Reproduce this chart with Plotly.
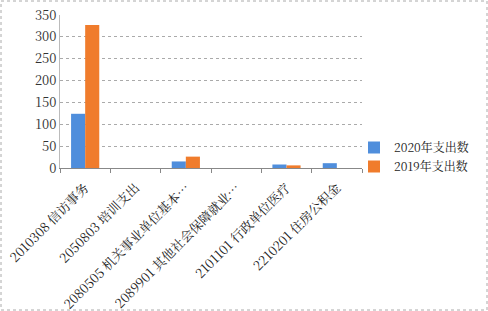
import plotly.graph_objects as go

categories = ["2010308 信访事务", "2050803 培训支出", "2080505 机关事业单位基本…",
              "2089901 其他社会保障就业…", "2101101 行政单位医疗", "2210201 住房公积金"]
values_2020 = [124, 0, 15, 0, 8, 11]
values_2019 = [327, 0, 26, 0, 6, 0]
series_names = ["2020年支出数", "2019年支出数"]
yticks = [0, 50, 100, 150, 200, 250, 300, 350]

W, H = 488, 311
L, R, T, B = 60, 126, 15, 143
pw, ph = W - L - R, H - T - B

fig = go.Figure()
fig.add_trace(go.Bar(x=categories, y=values_2020, name=series_names[0],
                     marker=dict(color="#4F8EDC", line=dict(width=0))))
fig.add_trace(go.Bar(x=categories, y=values_2019, name=series_names[1],
                     marker=dict(color="#F07C2C", line=dict(width=0))))

font_family = "Noto Serif CJK SC, Noto Sans CJK SC, DejaVu Sans, sans-serif"
fig.update_layout(
    width=W, height=H,
    margin=dict(l=L, r=R, t=T, b=B, autoexpand=False),
    paper_bgcolor="white", plot_bgcolor="white",
    barmode="group", bargap=0.44, bargroupgap=0,
    font=dict(family=font_family, size=12, color="#333333"),
    legend=dict(x=(354 - L) / pw, y=(168 - 133) / ph, xanchor="left", yanchor="top",
                font=dict(size=12, color="#222222"), bgcolor="rgba(0,0,0,0)",
                itemwidth=30, tracegroupgap=2),
    showlegend=True,
)
fig.update_xaxes(showgrid=False, showline=True, linecolor="#888888", linewidth=1,
                 ticks="outside", ticklen=4, tickcolor="#888888",
                 tickson="boundaries", tickangle=-45, ticklabelstandoff=6,
                 tickfont=dict(size=13, color="#222222"))
fig.update_yaxes(range=[0, 350], tickvals=yticks, showgrid=True, gridcolor="#AAAAAA",
                 griddash="dot", gridwidth=1, zeroline=False, showline=True,
                 linecolor="#BBBBBB", ticks="", tickfont=dict(size=13, color="#333333"))

# outer chart border (dotted gray)
fig.add_shape(type="rect", xref="paper", yref="paper",
              x0=(1 - L) / pw, x1=(W - 1 - L) / pw,
              y0=-(B - 1) / ph, y1=(ph + T - 1) / ph,
              line=dict(color="#AAAAAA", width=1, dash="dot"))

fig.write_html("out.html")
